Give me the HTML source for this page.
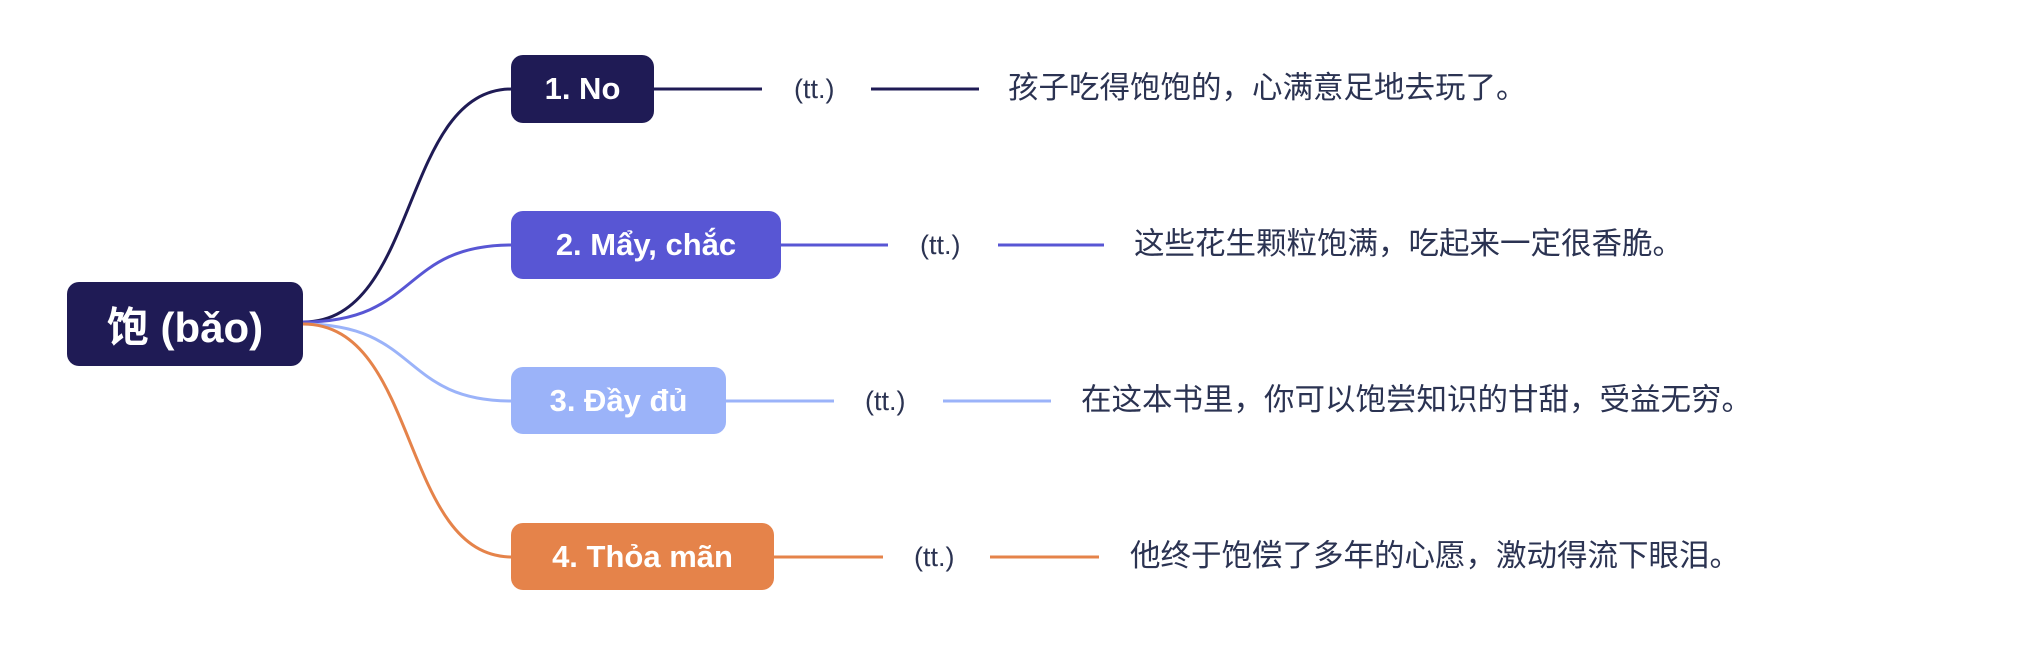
<!DOCTYPE html>
<html><head><meta charset="utf-8"><style>
body{margin:0;width:2017px;height:665px;background:#fff;position:relative;overflow:hidden;font-family:"Liberation Sans","Noto Sans CJK SC",sans-serif}
.b{position:absolute;border-radius:12px;color:#fff;font-weight:bold;display:flex;align-items:center;justify-content:center;font-size:31px}
.t{position:absolute;font-size:27px;color:#2b3352;line-height:1}
.s{position:absolute;font-size:30.5px;color:#2b3352;white-space:nowrap;line-height:1}
</style></head><body>
<svg width="2017" height="665" style="position:absolute;left:0;top:0" fill="none" stroke-width="3">
<path d="M303 322 C 420 322, 400 89, 512 89" stroke="#1f1b55"/>
<path d="M303 322 C 420 322, 400 245, 512 245" stroke="#5856d4"/>
<path d="M303 324 C 420 324, 400 401, 512 401" stroke="#9bb3f9"/>
<path d="M303 324 C 420 324, 400 557, 512 557" stroke="#e5834a"/>
<path d="M654 89H762M871 89H979" stroke="#1f1b55"/>
<path d="M781 245H888M998 245H1104" stroke="#5856d4"/>
<path d="M726 401H834M943 401H1051" stroke="#9bb3f9"/>
<path d="M774 557H883M990 557H1099" stroke="#e5834a"/>
</svg>
<div class="b" style="left:67px;top:282px;width:236px;height:84px;background:#1f1b55;font-size:42px">饱 (bǎo)</div>
<div class="b" style="left:511px;top:55px;width:143px;height:68px;background:#1f1b55">1. No</div>
<div class="b" style="left:511px;top:211px;width:270px;height:68px;background:#5856d4">2. Mẩy, chắc</div>
<div class="b" style="left:511px;top:367px;width:215px;height:67px;background:#9bb3f9">3. Đầy đủ</div>
<div class="b" style="left:511px;top:523px;width:263px;height:67px;background:#e5834a">4. Thỏa mãn</div>
<div class="t" style="left:794px;top:76px">(tt.)</div>
<div class="t" style="left:920px;top:232px">(tt.)</div>
<div class="t" style="left:865px;top:388px">(tt.)</div>
<div class="t" style="left:914px;top:544px">(tt.)</div>
<div class="s" style="left:1008px;top:73px">孩子吃得饱饱的，心满意足地去玩了。</div>
<div class="s" style="left:1134px;top:229px">这些花生颗粒饱满，吃起来一定很香脆。</div>
<div class="s" style="left:1081px;top:385px">在这本书里，你可以饱尝知识的甘甜，受益无穷。</div>
<div class="s" style="left:1130px;top:541px">他终于饱偿了多年的心愿，激动得流下眼泪。</div>
</body></html>
